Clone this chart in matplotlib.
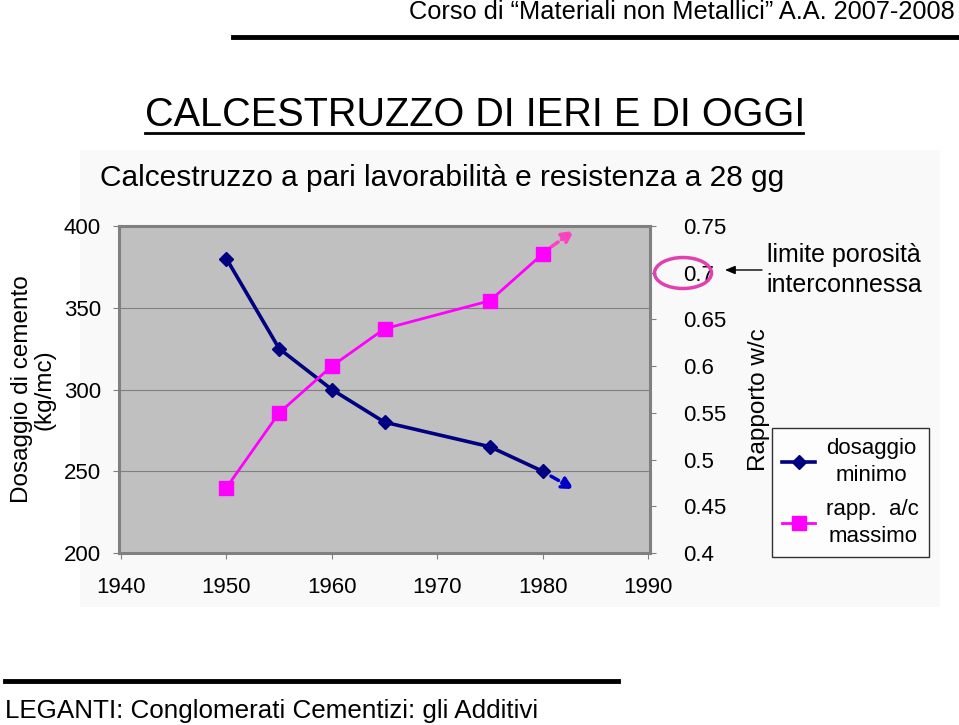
import numpy as np
import matplotlib
matplotlib.use('Agg')
from matplotlib import pyplot as plt
from matplotlib.patches import Ellipse, Rectangle
from matplotlib.lines import Line2D

# data
years = [1950, 1955, 1960, 1965, 1975, 1980]
dosaggio = [380, 325, 300, 280, 265, 250]          # kg/mc, left axis
rapporto = [0.47, 0.55, 0.60, 0.64, 0.67, 0.72]    # w/c, right axis
trend_years = [1980.8, 1983]
dosaggio_trend = [247, 239]
rapporto_trend = [0.7275, 0.745]

xticks = [1940, 1950, 1960, 1970, 1980, 1990]
yticks_left = [200, 250, 300, 350, 400]
yticks_right = [0.4, 0.45, 0.5, 0.55, 0.6, 0.65, 0.7, 0.75]
yticklabels_right = ['0.4', '0.45', '0.5', '0.55', '0.6', '0.65', '0.7', '0.75']

plt.rcParams['font.family'] = ['Liberation Sans', 'DejaVu Sans']

W, H = 959, 725
def fx(px):
    return px / W
def fy(py):
    return 1 - py / H

fig = plt.figure(figsize=(W/100, H/100), dpi=100)
fig.patch.set_facecolor('white')

#light background of the pasted chart picture
fig.patches.append(Rectangle((fx(80), fy(607)), fx(940)-fx(80), fy(150)-fy(607),
                             transform=fig.transFigure, facecolor='#f9f9f9',
                             edgecolor='none', zorder=-10))

#header
fig.text(fx(955), fy(12), 'Corso di \u201cMateriali non Metallici\u201d A.A. 2007-2008',
         ha='right', va='center', fontsize=18.3)
fig.add_artist(Line2D([fx(233), fx(957)], [fy(37), fy(37)], color='black', lw=3.5))

#title, underlined
fig.text(fx(145), fy(115), 'CALCESTRUZZO DI IERI E DI OGGI', ha='left', va='center',
         fontsize=28.5)
fig.add_artist(Line2D([fx(145), fx(803)], [fy(133), fy(133)], color='black', lw=2))

fig.text(fx(100), fy(178), 'Calcestruzzo a pari lavorabilit\u00e0 e resistenza a 28 gg',
         ha='left', va='center', fontsize=21.5)

#main chart
ax = fig.add_axes([fx(119), fy(553), fx(650)-fx(119), fy(226)-fy(553)])
ax.set_facecolor('#c0c0c0')
ax.set_xlim(1939.8, 1990.2)
ax.set_ylim(200, 400)
ax.set_xticks(xticks)
ax.set_yticks(yticks_left)
ax.grid(axis='y', color='#808080', lw=0.8)
ax.set_axisbelow(True)
for sp in ax.spines.values():
    sp.set_color('#808080')
    sp.set_linewidth(2.2)
ax.tick_params(axis='x', colors='#808080', labelcolor='black', labelsize=16, length=4, pad=13)
ax.tick_params(axis='y', colors='#808080', labelcolor='black', labelsize=16, length=4, pad=9)
ax.set_ylabel('Dosaggio di cemento\n(kg/mc)', fontsize=17.5, labelpad=6, linespacing=1.0)

ax2 = ax.twinx()
ax2.set_ylim(0.4, 0.75)
ax2.set_yticks(yticks_right)
ax2.set_yticklabels(yticklabels_right)
for sp in ax2.spines.values():
    sp.set_visible(False)
ax2.tick_params(axis='y', colors='#808080', labelcolor='black', labelsize=16, length=4, pad=20)
ax2.set_ylabel('Rapporto w/c', fontsize=17.5, labelpad=12)
ax2.yaxis.set_label_coords(1.0 + 98/531, 0.47)

l1, = ax.plot(years, dosaggio, color='#000080', lw=2.6, marker='D', markersize=7,
              label='dosaggio\nminimo', zorder=5)
l2, = ax2.plot(years, rapporto, color='#ff00ff', lw=2.0, marker='s', markersize=10,
               label='rapp.  a/c\nmassimo', zorder=5)

#dashed trend arrows
ax.annotate('', xy=(trend_years[1], dosaggio_trend[1]), xytext=(trend_years[0], dosaggio_trend[0]),
            arrowprops=dict(arrowstyle='-|>,head_length=0.7,head_width=0.35', color='#0000c8',
                            lw=2.5, linestyle=(0, (2.5, 1.2)), shrinkA=0, shrinkB=0))
ax2.annotate('', xy=(trend_years[1], rapporto_trend[1]), xytext=(trend_years[0], rapporto_trend[0]),
             arrowprops=dict(arrowstyle='-|>,head_length=0.7,head_width=0.35', color='#ff40c0',
                             lw=2.5, linestyle=(0, (2.5, 1.2)), shrinkA=0, shrinkB=0))

#note on porosity limit
fig.patches.append(Ellipse((fx(683), fy(273)), fx(57), 31/H, transform=fig.transFigure,
                           facecolor='none', edgecolor='#e040b0', lw=2.5, zorder=10))
ax2.annotate('', xy=(fx(725), fy(270)), xytext=(fx(762), fy(270)), xycoords='figure fraction',
             arrowprops=dict(arrowstyle='-|>,head_length=0.6,head_width=0.25', color='black',
                             lw=1, shrinkA=0, shrinkB=0), annotation_clip=False)
fig.text(fx(844), fy(270), 'limite porosit\u00e0\ninterconnessa', ha='center', va='center',
         fontsize=18, linespacing=1.3)

leg = fig.legend(handles=[l1, l2], loc='upper left', bbox_to_anchor=(fx(772), fy(428)),
                 fontsize=16, frameon=True, fancybox=False, edgecolor='black',
                 handlelength=1.5, labelspacing=0.6, borderpad=0.45, handletextpad=0.5,
                 borderaxespad=0)
leg.get_frame().set_linewidth(1)
for t in leg.get_texts():
    t.set_multialignment('center')
    t.set_linespacing(1.35)

#footer
fig.add_artist(Line2D([fx(5), fx(618)], [fy(681), fy(681)], color='black', lw=3.5))
fig.text(fx(5), fy(711), 'LEGANTI: Conglomerati Cementizi: gli Additivi', ha='left', va='center',
         fontsize=18.7)

fig.savefig('out.png', dpi=100)
